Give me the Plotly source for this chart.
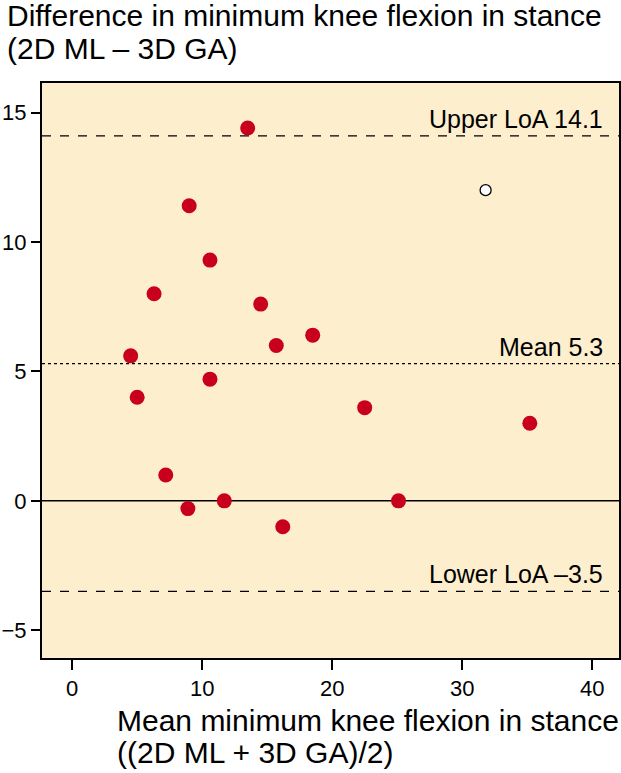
import plotly.graph_objects as go

# Data
mean_x = [13.5, 9.0, 10.6, 6.3, 14.5, 4.5, 15.7, 18.5, 10.6, 5.0, 22.5, 35.2, 7.2, 11.7, 8.9, 16.2, 25.1]
diff_y = [14.4, 11.4, 9.3, 8.0, 7.6, 5.6, 6.0, 6.4, 4.7, 4.0, 3.6, 3.0, 1.0, 0.0, -0.3, -1.0, 0.0]
outlier_x = [31.8]
outlier_y = [12.0]

mean_diff = 5.3
upper_loa = 14.1
lower_loa = -3.5
ref_labels = ["Upper LoA 14.1", "Mean 5.3", "Lower LoA \u20133.5"]
ref_values = [upper_loa, mean_diff, lower_loa]
ref_dash = ["dash", "dot", "dash"]

x_ticks = [0, 10, 20, 30, 40]
y_ticks = [-5, 0, 5, 10, 15]
y_ticktext = ["\u22125", "0", "5", "10", "15"]

title_lines = ["Difference in minimum knee flexion in stance", "(2D ML \u2013 3D GA)"]
xtitle_lines = ["Mean minimum knee flexion in stance", "((2D ML + 3D GA)/2)"]

FONT = "Liberation Sans, Arial, sans-serif"

fig = go.Figure()

fig.add_trace(go.Scatter(
    x=mean_x, y=diff_y, mode="markers",
    marker=dict(size=15, color="#c8001e", line=dict(width=0)),
    showlegend=False, hoverinfo="skip"))
fig.add_trace(go.Scatter(
    x=outlier_x, y=outlier_y, mode="markers",
    marker=dict(size=11, color="white", line=dict(width=1.3, color="black")),
    showlegend=False, hoverinfo="skip"))

shapes = [dict(type="line", xref="paper", x0=0, x1=1, yref="y", y0=0, y1=0,
               line=dict(color="black", width=1.5), layer="below")]
annotations = []
for lab, val, d in zip(ref_labels, ref_values, ref_dash):
    shapes.append(dict(type="line", xref="paper", x0=0, x1=1, yref="y", y0=val, y1=val,
                       line=dict(color="black", width=1.2, dash=d), layer="below"))
    annotations.append(dict(text=lab, xref="paper", x=0.976, xanchor="right",
                            yref="y", y=val, yanchor="bottom", yshift=1,
                            showarrow=False, font=dict(size=25, color="black", family=FONT)))

for txt, yp in zip(title_lines, [1.1172, 1.0606]):
    annotations.append(dict(text=txt, xref="paper", x=-0.0636, xanchor="left",
                            yref="paper", y=yp, yanchor="middle",
                            showarrow=False, font=dict(size=30, color="black", family=FONT)))
for txt, yp in zip(xtitle_lines, [-0.1085, -0.164]):
    annotations.append(dict(text=txt, xref="paper", x=0.127, xanchor="left",
                            yref="paper", y=yp, yanchor="middle",
                            showarrow=False, font=dict(size=30, color="black", family=FONT)))

fig.update_layout(
    width=621, height=773,
    margin=dict(l=42, r=2, t=83, b=115, pad=0),
    paper_bgcolor="white", plot_bgcolor="#fdefce",
    shapes=shapes, annotations=annotations,
    font=dict(family=FONT, size=22, color="black"),
)
fig.update_xaxes(range=[-2.32, 42.06], tickvals=x_ticks, ticks="outside", ticklen=10,
                 tickwidth=1.5, tickcolor="black", showgrid=False, zeroline=False,
                 showline=True, mirror=True, linecolor="black", linewidth=2,
                 automargin=False, tickfont=dict(size=22, family=FONT))
fig.update_yaxes(range=[-6.07, 16.14], tickvals=y_ticks, ticktext=y_ticktext, ticks="outside",
                 ticklen=9, tickwidth=1.5, tickcolor="black", showgrid=False, zeroline=False,
                 showline=True, mirror=True, linecolor="black", linewidth=2,
                 automargin=False, tickfont=dict(size=22, family=FONT))

# remove the browser's default 8px body margin so the figure fills the window exactly
fig.write_html("out.html", config={"displayModeBar": False},
               post_script="document.body.style.margin='0';")
